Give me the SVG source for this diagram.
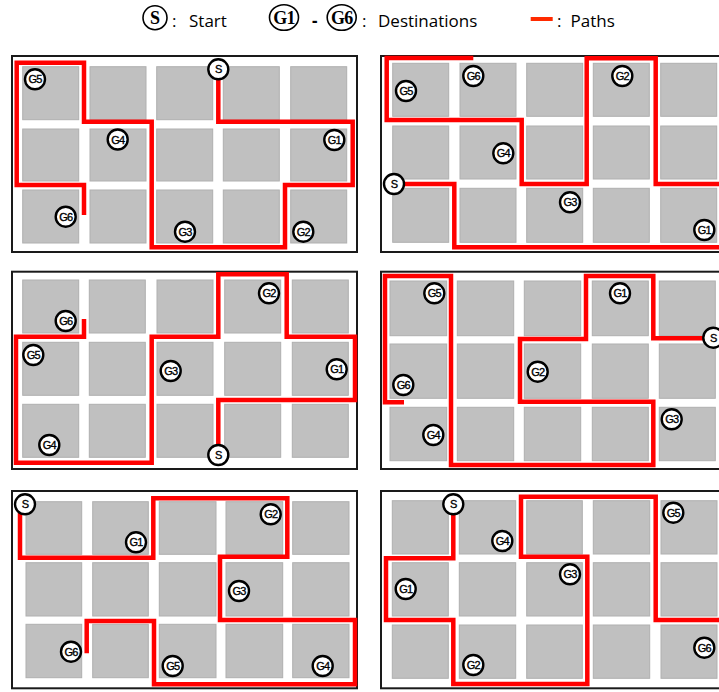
<svg xmlns="http://www.w3.org/2000/svg" width="719" height="692" viewBox="0 0 719 692">
<style>
.bg{fill:#ffffff}
.panel{fill:#ffffff;stroke:#1a1a1a;stroke-width:2}
.sq{fill:#c0c0c0;stroke:#b0b0b0;stroke-width:1}
.route{fill:none;stroke:#ff0000;stroke-width:4.5;stroke-linejoin:miter;stroke-linecap:butt}
.nd{fill:#ffffff;stroke:#000000;stroke-width:2.4}
.nt{font-family:"Liberation Sans",Arial,sans-serif;font-size:11px;fill:#000;text-anchor:middle;letter-spacing:-0.8px;stroke:#000;stroke-width:0.35}
.lg{font-family:"Open Sans",sans-serif;font-size:17px;fill:#000}
.lgs{font-family:"Liberation Serif","Times New Roman",serif;font-size:18px;font-weight:bold;fill:#000;text-anchor:middle}
.lc{fill:#ffffff;stroke:#000;stroke-width:1.6}
</style>
<rect class="bg" x="0" y="0" width="719" height="692"/>

<g id="legend">
  <circle class="lc" cx="155" cy="17.7" r="12"/>
  <text class="lgs" x="155" y="24">S</text>
  <text class="lg" x="172" y="27">:</text>
  <text class="lg" x="189" y="27">Start</text>
  <ellipse class="lc" cx="284" cy="17.5" rx="14.5" ry="12.8"/>
  <text class="lgs" x="284" y="24" letter-spacing="-0.8">G1</text>
  <text class="lg" x="312" y="27" font-weight="bold">-</text>
  <ellipse class="lc" cx="341.7" cy="17.5" rx="14.5" ry="12.8"/>
  <text class="lgs" x="341.7" y="24" letter-spacing="-0.8">G6</text>
  <text class="lg" x="362" y="27">:</text>
  <text class="lg" x="378" y="27">Destinations</text>
  <rect x="530.7" y="17" width="22" height="4" fill="#ff2a00"/>
  <text class="lg" x="557" y="27">:</text>
  <text class="lg" x="570.5" y="27">Paths</text>
</g>

<!-- Panel 1 -->
<g id="panel1">
  <rect class="panel" x="12" y="56" width="345" height="196"/>
  <g id="p1-blocks">
    <rect class="sq" x="22.7" y="66.7" width="56" height="53"/><rect class="sq" x="90" y="66.7" width="56" height="53"/><rect class="sq" x="156.7" y="66.7" width="56" height="53"/><rect class="sq" x="223.3" y="66.7" width="56" height="53"/><rect class="sq" x="290.7" y="66.7" width="56" height="53"/>
    <rect class="sq" x="22.7" y="129" width="56" height="52"/><rect class="sq" x="90" y="129" width="56" height="52"/><rect class="sq" x="156.7" y="129" width="56" height="52"/><rect class="sq" x="223.3" y="129" width="56" height="52"/><rect class="sq" x="290.7" y="129" width="56" height="52"/>
    <rect class="sq" x="22.7" y="190" width="56" height="53"/><rect class="sq" x="90" y="190" width="56" height="53"/><rect class="sq" x="156.7" y="190" width="56" height="53"/><rect class="sq" x="223.3" y="190" width="56" height="53"/><rect class="sq" x="290.7" y="190" width="56" height="53"/>
  </g>
  <g id="p1-connectors">
    <path class="route" d="M84,215 V185 H16.7 V62.7 H84 V121.7 H151.7 V247.3 H285 V185 H352.7 V121.7 H218.3 V78"/>
  </g>
  <g id="p1-S"><circle class="nd" cx="218.3" cy="69.3" r="10"/><text class="nt" x="218.3" y="73.3">S</text></g>
  <g id="p1-G5"><circle class="nd" cx="35" cy="79.3" r="10"/><text class="nt" x="35" y="83.3">G5</text></g>
  <g id="p1-G4"><circle class="nd" cx="117.7" cy="139.5" r="10"/><text class="nt" x="117.7" y="143.5">G4</text></g>
  <g id="p1-G1"><circle class="nd" cx="334.3" cy="140" r="10"/><text class="nt" x="334.3" y="144">G1</text></g>
  <g id="p1-G6"><circle class="nd" cx="65.7" cy="216.7" r="10"/><text class="nt" x="65.7" y="220.7">G6</text></g>
  <g id="p1-G3"><circle class="nd" cx="185" cy="231.7" r="10"/><text class="nt" x="185" y="235.7">G3</text></g>
  <g id="p1-G2"><circle class="nd" cx="303.3" cy="231.7" r="10"/><text class="nt" x="303.3" y="235.7">G2</text></g>
</g>

<!-- Panel 2 -->
<g id="panel2">
  <rect class="panel" x="381" y="56" width="346" height="196"/>
  <g id="p2-blocks">
    <rect class="sq" x="392.7" y="63.3" width="56" height="53"/><rect class="sq" x="460" y="63.3" width="56" height="53"/><rect class="sq" x="526.7" y="63.3" width="56" height="53"/><rect class="sq" x="593.3" y="63.3" width="56" height="53"/><rect class="sq" x="660.7" y="63.3" width="56" height="53"/>
    <rect class="sq" x="392.7" y="126" width="56" height="53"/><rect class="sq" x="460" y="126" width="56" height="53"/><rect class="sq" x="526.7" y="126" width="56" height="53"/><rect class="sq" x="593.3" y="126" width="56" height="53"/><rect class="sq" x="660.7" y="126" width="56" height="53"/>
    <rect class="sq" x="392.7" y="188.3" width="56" height="54"/><rect class="sq" x="460" y="188.3" width="56" height="54"/><rect class="sq" x="526.7" y="188.3" width="56" height="54"/><rect class="sq" x="593.3" y="188.3" width="56" height="54"/><rect class="sq" x="660.7" y="188.3" width="56" height="54"/>
  </g>
  <g id="p2-connectors">
    <path class="route" d="M473.3,58 H386.7 V120 H521.7 V184 H586.7 V58.3 H655.7 V184 H730"/>
    <path class="route" d="M394,184 H454.3 V247.3 H730"/>
  </g>
  <g id="p2-S"><circle class="nd" cx="394" cy="184" r="10"/><text class="nt" x="394" y="188">S</text></g>
  <g id="p2-G6"><circle class="nd" cx="473.3" cy="76" r="10"/><text class="nt" x="473.3" y="80">G6</text></g>
  <g id="p2-G5"><circle class="nd" cx="406" cy="91" r="10"/><text class="nt" x="406" y="95">G5</text></g>
  <g id="p2-G2"><circle class="nd" cx="622.3" cy="76" r="10"/><text class="nt" x="622.3" y="80">G2</text></g>
  <g id="p2-G4"><circle class="nd" cx="503.3" cy="153.3" r="10"/><text class="nt" x="503.3" y="157.3">G4</text></g>
  <g id="p2-G3"><circle class="nd" cx="570" cy="202.3" r="10"/><text class="nt" x="570" y="206.3">G3</text></g>
  <g id="p2-G1"><circle class="nd" cx="704.3" cy="230" r="10"/><text class="nt" x="704.3" y="234">G1</text></g>
</g>

<!-- Panel 3 -->
<g id="panel3">
  <rect class="panel" x="12" y="271.7" width="345" height="197.3"/>
  <g id="p3-blocks">
    <rect class="sq" x="22.7" y="280" width="56" height="53"/><rect class="sq" x="89.3" y="280" width="56" height="53"/><rect class="sq" x="157" y="280" width="56" height="53"/><rect class="sq" x="224.7" y="280" width="56" height="53"/><rect class="sq" x="292.3" y="280" width="56" height="53"/>
    <rect class="sq" x="22.7" y="342.3" width="56" height="53"/><rect class="sq" x="89.3" y="342.3" width="56" height="53"/><rect class="sq" x="157" y="342.3" width="56" height="53"/><rect class="sq" x="224.7" y="342.3" width="56" height="53"/><rect class="sq" x="292.3" y="342.3" width="56" height="53"/>
    <rect class="sq" x="22.7" y="404.3" width="56" height="53"/><rect class="sq" x="89.3" y="404.3" width="56" height="53"/><rect class="sq" x="157" y="404.3" width="56" height="53"/><rect class="sq" x="224.7" y="404.3" width="56" height="53"/><rect class="sq" x="292.3" y="404.3" width="56" height="53"/>
  </g>
  <g id="p3-connectors">
    <path class="route" d="M84,319 V336.7 H16 V462.7 H151.7 V336.7 H218.3 V274.3 H286.7 V336.7 H355 V400 H218.3 V450"/>
  </g>
  <g id="p3-S"><circle class="nd" cx="218.3" cy="455" r="10"/><text class="nt" x="218.3" y="459">S</text></g>
  <g id="p3-G2"><circle class="nd" cx="269" cy="293.3" r="10"/><text class="nt" x="269" y="297.3">G2</text></g>
  <g id="p3-G6"><circle class="nd" cx="65.7" cy="321" r="10"/><text class="nt" x="65.7" y="325">G6</text></g>
  <g id="p3-G5"><circle class="nd" cx="33.3" cy="355" r="10"/><text class="nt" x="33.3" y="359">G5</text></g>
  <g id="p3-G3"><circle class="nd" cx="170.7" cy="371" r="10"/><text class="nt" x="170.7" y="375">G3</text></g>
  <g id="p3-G1"><circle class="nd" cx="336.7" cy="369.3" r="10"/><text class="nt" x="336.7" y="373.3">G1</text></g>
  <g id="p3-G4"><circle class="nd" cx="49.3" cy="445" r="10"/><text class="nt" x="49.3" y="449">G4</text></g>
</g>

<!-- Panel 4 -->
<g id="panel4">
  <rect class="panel" x="381" y="271.7" width="346" height="197.3"/>
  <g id="p4-blocks">
    <rect class="sq" x="390" y="281" width="56.7" height="54.7"/><rect class="sq" x="457.3" y="281" width="56.4" height="54.7"/><rect class="sq" x="524.3" y="281" width="56.4" height="54.7"/><rect class="sq" x="592.3" y="281" width="56" height="54.7"/><rect class="sq" x="659.3" y="281" width="56" height="54.7"/>
    <rect class="sq" x="390" y="344" width="56.7" height="54.3"/><rect class="sq" x="457.3" y="344" width="56.4" height="54.3"/><rect class="sq" x="524.3" y="344" width="56.4" height="54.3"/><rect class="sq" x="592.3" y="344" width="56" height="54.3"/><rect class="sq" x="659.3" y="344" width="56" height="54.3"/>
    <rect class="sq" x="390" y="407.3" width="56.7" height="53.4"/><rect class="sq" x="457.3" y="407.3" width="56.4" height="53.4"/><rect class="sq" x="524.3" y="407.3" width="56.4" height="53.4"/><rect class="sq" x="592.3" y="407.3" width="56" height="53.4"/><rect class="sq" x="659.3" y="407.3" width="56" height="53.4"/>
  </g>
  <g id="p4-connectors">
    <path class="route" d="M404,402.3 H385 V276 H451 V465 H653.3 V401.7 H520 V339 H586 V276 H653.3 V338.3 H713"/>
  </g>
  <g id="p4-S"><circle class="nd" cx="713.3" cy="337.7" r="10"/><text class="nt" x="713.3" y="341.7">S</text></g>
  <g id="p4-G5"><circle class="nd" cx="434.3" cy="293.3" r="10"/><text class="nt" x="434.3" y="297.3">G5</text></g>
  <g id="p4-G1"><circle class="nd" cx="620" cy="293.3" r="10"/><text class="nt" x="620" y="297.3">G1</text></g>
  <g id="p4-G2"><circle class="nd" cx="537.7" cy="371.7" r="10"/><text class="nt" x="537.7" y="375.7">G2</text></g>
  <g id="p4-G6"><circle class="nd" cx="403.3" cy="385" r="10"/><text class="nt" x="403.3" y="389">G6</text></g>
  <g id="p4-G4"><circle class="nd" cx="433.3" cy="435" r="10"/><text class="nt" x="433.3" y="439">G4</text></g>
  <g id="p4-G3"><circle class="nd" cx="671.7" cy="419.3" r="10"/><text class="nt" x="671.7" y="423.3">G3</text></g>
</g>

<!-- Panel 5 -->
<g id="panel5">
  <rect class="panel" x="12" y="491" width="345" height="197.3"/>
  <g id="p5-blocks">
    <rect class="sq" x="26" y="501.7" width="55.7" height="52.6"/><rect class="sq" x="92.7" y="501.7" width="55.6" height="52.6"/><rect class="sq" x="159.3" y="501.7" width="56.7" height="52.6"/><rect class="sq" x="226" y="501.7" width="56.7" height="52.6"/><rect class="sq" x="292.7" y="501.7" width="56.3" height="52.6"/>
    <rect class="sq" x="26" y="562.7" width="55.7" height="53.3"/><rect class="sq" x="92.7" y="562.7" width="55.6" height="53.3"/><rect class="sq" x="159.3" y="562.7" width="56.7" height="53.3"/><rect class="sq" x="226" y="562.7" width="56.7" height="53.3"/><rect class="sq" x="292.7" y="562.7" width="56.3" height="53.3"/>
    <rect class="sq" x="26" y="624.3" width="55.7" height="53.4"/><rect class="sq" x="92.7" y="624.3" width="55.6" height="53.4"/><rect class="sq" x="159.3" y="624.3" width="56.7" height="53.4"/><rect class="sq" x="226" y="624.3" width="56.7" height="53.4"/><rect class="sq" x="292.7" y="624.3" width="56.3" height="53.4"/>
  </g>
  <g id="p5-connectors">
    <path class="route" d="M20,513 V557.7 H153.3 V498.3 H287.3 V556.7 H220 V620 H355 V684.3 H154 V621 H86.7 V653.3"/>
  </g>
  <g id="p5-S"><circle class="nd" cx="25" cy="504.3" r="10"/><text class="nt" x="25" y="508.3">S</text></g>
  <g id="p5-G2"><circle class="nd" cx="270.7" cy="514.3" r="10"/><text class="nt" x="270.7" y="518.3">G2</text></g>
  <g id="p5-G1"><circle class="nd" cx="136" cy="542.3" r="10"/><text class="nt" x="136" y="546.3">G1</text></g>
  <g id="p5-G3"><circle class="nd" cx="239" cy="591" r="10"/><text class="nt" x="239" y="595">G3</text></g>
  <g id="p5-G6"><circle class="nd" cx="71" cy="651.7" r="10"/><text class="nt" x="71" y="655.7">G6</text></g>
  <g id="p5-G5"><circle class="nd" cx="172.7" cy="666" r="10"/><text class="nt" x="172.7" y="670">G5</text></g>
  <g id="p5-G4"><circle class="nd" cx="322.7" cy="666" r="10"/><text class="nt" x="322.7" y="670">G4</text></g>
</g>

<!-- Panel 6 -->
<g id="panel6">
  <rect class="panel" x="381" y="491" width="346" height="197.3"/>
  <g id="p6-blocks">
    <rect class="sq" x="392.3" y="500.7" width="56" height="53.3"/><rect class="sq" x="459.3" y="500.7" width="56.4" height="53.3"/><rect class="sq" x="526.7" y="500.7" width="55.6" height="53.3"/><rect class="sq" x="593.3" y="500.7" width="56.4" height="53.3"/><rect class="sq" x="661" y="500.7" width="56" height="53.3"/>
    <rect class="sq" x="392.3" y="562.7" width="56" height="53.3"/><rect class="sq" x="459.3" y="562.7" width="56.4" height="53.3"/><rect class="sq" x="526.7" y="562.7" width="55.6" height="53.3"/><rect class="sq" x="593.3" y="562.7" width="56.4" height="53.3"/><rect class="sq" x="661" y="562.7" width="56" height="53.3"/>
    <rect class="sq" x="392.3" y="625" width="56" height="53.3"/><rect class="sq" x="459.3" y="625" width="56.4" height="53.3"/><rect class="sq" x="526.7" y="625" width="55.6" height="53.3"/><rect class="sq" x="593.3" y="625" width="56.4" height="53.3"/><rect class="sq" x="661" y="625" width="56" height="53.3"/>
  </g>
  <g id="p6-connectors">
    <path class="route" d="M453.3,513 V558.3 H386 V620 H453.3 V684 H587.3 V556.7 H521 V496.7 H655.7 V620 H730"/>
  </g>
  <g id="p6-S"><circle class="nd" cx="453.3" cy="504.3" r="10"/><text class="nt" x="453.3" y="508.3">S</text></g>
  <g id="p6-G4"><circle class="nd" cx="502.3" cy="541" r="10"/><text class="nt" x="502.3" y="545">G4</text></g>
  <g id="p6-G5"><circle class="nd" cx="673.3" cy="512.7" r="10"/><text class="nt" x="673.3" y="516.7">G5</text></g>
  <g id="p6-G1"><circle class="nd" cx="405.7" cy="589" r="10"/><text class="nt" x="405.7" y="593">G1</text></g>
  <g id="p6-G3"><circle class="nd" cx="570" cy="574.3" r="10"/><text class="nt" x="570" y="578.3">G3</text></g>
  <g id="p6-G2"><circle class="nd" cx="473.3" cy="665" r="10"/><text class="nt" x="473.3" y="669">G2</text></g>
  <g id="p6-G6"><circle class="nd" cx="704.3" cy="647.7" r="10"/><text class="nt" x="704.3" y="651.7">G6</text></g>
</g>
</svg>
